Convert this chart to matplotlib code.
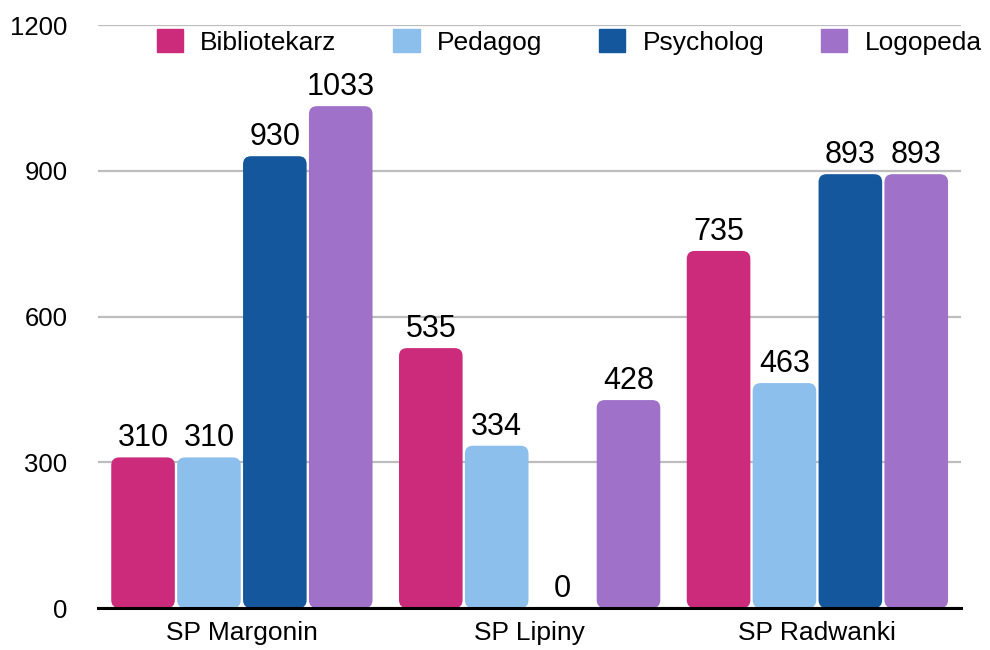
import numpy as np
from matplotlib import pyplot as plt
import matplotlib.patches as mpatches

# Data
schools = ['SP Margonin', 'SP Lipiny', 'SP Radwanki']
roles = ['Bibliotekarz', 'Pedagog', 'Psycholog', 'Logopeda']
bibliotekarz = [310, 535, 735]
pedagog = [310, 334, 463]
psycholog = [930, 0, 893]
logopeda = [1033, 428, 893]
colors = ['#CC2A7A', '#8DBFEC', '#15579C', '#9F71C9']

plt.rcParams['font.family'] = ['Liberation Sans', 'DejaVu Sans']

fig = plt.figure(figsize=(9.9, 6.5), dpi=100)
ax = fig.add_axes([0.099, 0.0646, 0.872, 0.8969])

x = np.arange(len(schools))
step = 0.229
width = 0.221
series = [bibliotekarz, pedagog, psycholog, logopeda]

# pixels -> data units, used to keep the corner rounding round
px_x = 1 / 287.0
px_y = 1200 / 583.0

for i, vals in enumerate(series):
        pos = x + (i - 1.5) * step
        bars = ax.bar(pos, vals, width, color=colors[i])
        for rect, v in zip(bars, vals):
                # swap plain rectangles for rounded ones
                rect.remove()
                if v > 0:
                        box = mpatches.FancyBboxPatch((rect.get_x(), rect.get_y()), rect.get_width(), rect.get_height(),
                                boxstyle='round,pad=0,rounding_size=%f' % (8 * px_x),
                                mutation_aspect=px_y / px_x,
                                facecolor=colors[i], edgecolor='none', zorder=2)
                        ax.add_patch(box)
                ax.annotate(str(v), (rect.get_x() + rect.get_width() / 2, v),
                        xytext=(0, 3), textcoords='offset points',
                        ha='center', va='bottom', fontsize=22, zorder=3)

# Axes styling
ax.set_xlim(-0.5, 2.5)
ax.set_ylim(0, 1200)
ax.set_yticks([0, 300, 600, 900, 1200])
ax.set_xticks(x)
ax.set_xticklabels(schools)
ax.tick_params(axis='y', length=0, pad=22, labelsize=18.5)
ax.tick_params(axis='x', length=0, pad=9, labelsize=19)
ax.grid(axis='y', color='#BDBDBD', linewidth=1.6, zorder=0)
ax.set_axisbelow(True)
for side in ['left', 'right', 'top']:
        ax.spines[side].set_visible(False)
ax.spines['bottom'].set_linewidth(2.2)
ax.spines['bottom'].set_color('black')
ax.spines['bottom'].set_zorder(4)

# Legend across the top
handles = [mpatches.Patch(color=c, label=r) for c, r in zip(colors, roles)]
fig.legend(handles=handles, loc='center', bbox_to_anchor=(0.575, 0.936),
        ncol=4, frameon=False, fontsize=19, handlelength=1.0, handleheight=1.0,
        handletextpad=0.65, columnspacing=2.15, borderpad=0, borderaxespad=0)

plt.savefig('out.png', dpi=100)
